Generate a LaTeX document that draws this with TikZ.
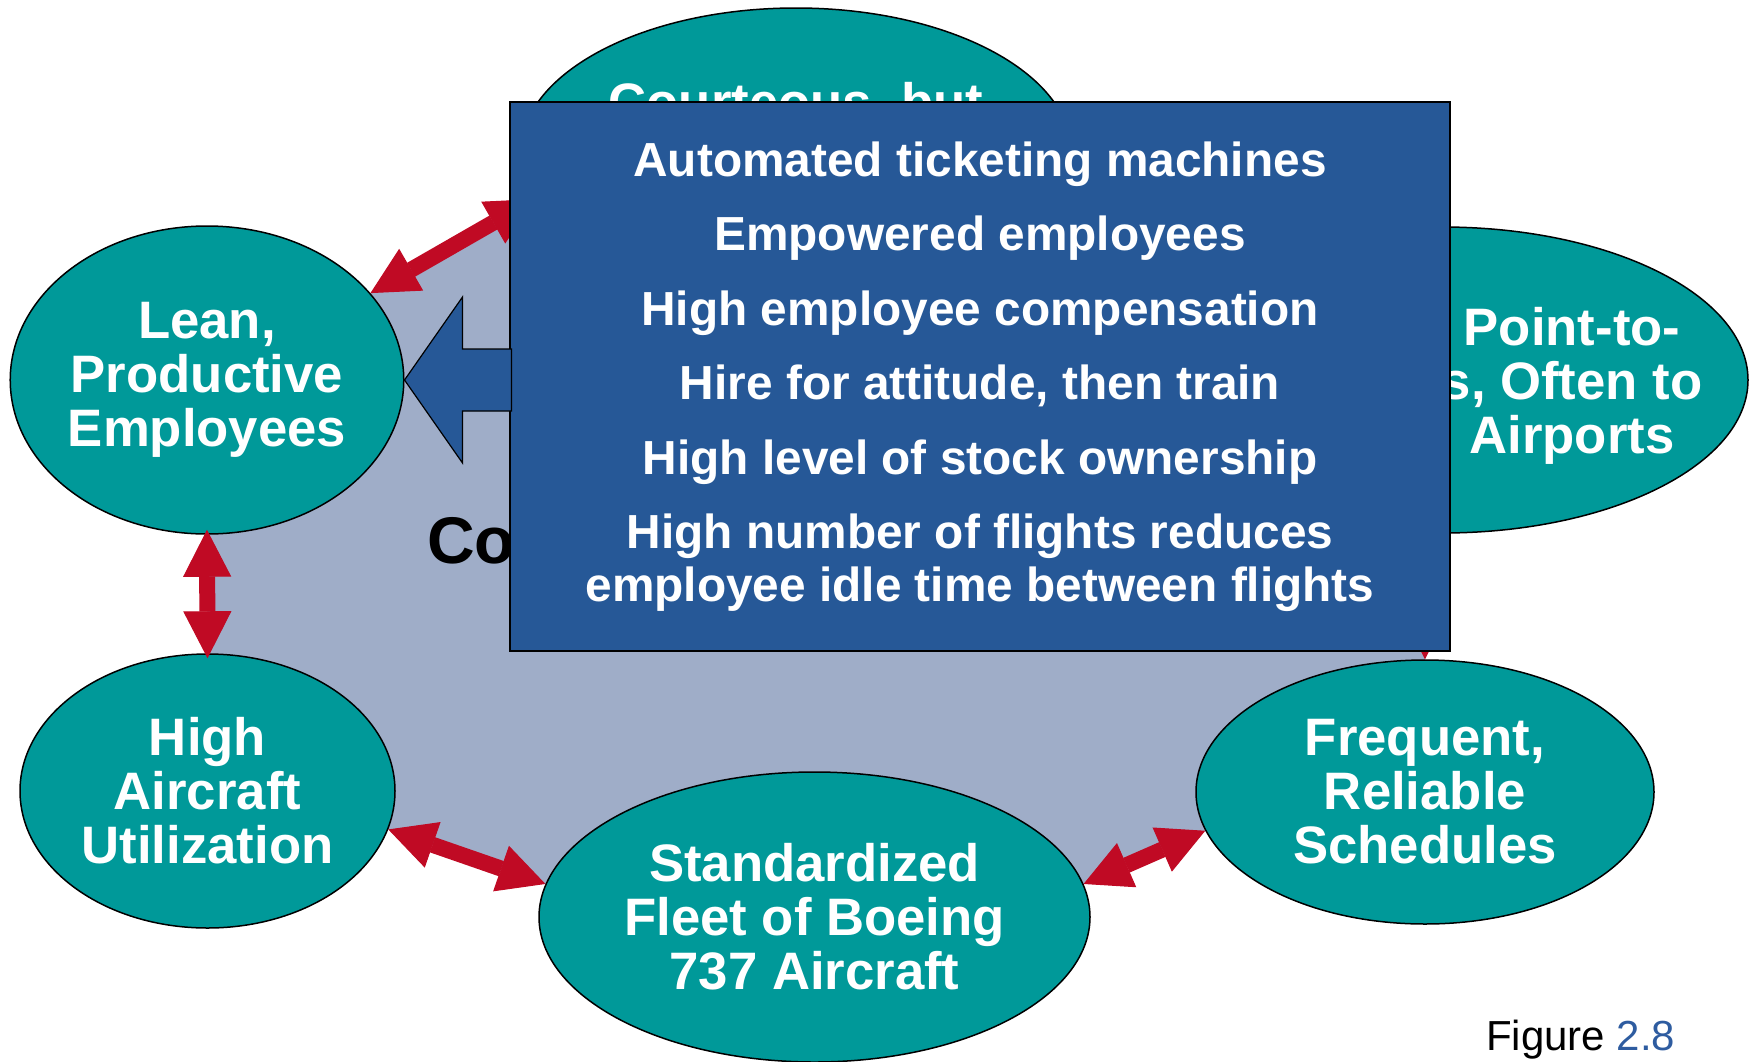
\documentclass[tikz,border=0pt]{standalone}
\usepackage{fontspec}
\setmainfont{Liberation Sans}
\usetikzlibrary{shapes.geometric,arrows.meta,backgrounds}
\definecolor{nodeteal}{RGB}{0,153,153}
\definecolor{linkred}{RGB}{192,10,36}
\definecolor{panelblue}{RGB}{38,88,151}
\definecolor{hubgray}{RGB}{159,173,200}
\definecolor{figblue}{RGB}{46,92,160}

\begin{document}
\begin{tikzpicture}[x=1pt, y=-1pt,
    activity/.style={ellipse, draw=black, line width=1.5pt, fill=nodeteal,
        inner sep=0pt, text=white, align=center,
        font=\fontsize{52.7}{54}\selectfont\bfseries},
    tealtext/.style={text=white, align=center, inner sep=0pt,
        font=\fontsize{52.7}{54}\selectfont\bfseries},
    link/.style={draw=linkred, line width=16pt,
        arrows={Triangle[width=48pt,length=47pt,line width=1pt]-Triangle[width=48pt,length=47pt,line width=1pt]}},
    panel/.style={rectangle, draw=black, line width=2pt, fill=panelblue,
        text=white, align=center, inner sep=0pt,
        font=\fontsize{47.8}{52.6}\selectfont\bfseries},
    blockarrow/.style={draw=black, line width=1.2pt, fill=panelblue},
    hub/.style={fill=hubgray}
]
    \useasboundingbox (0,0) rectangle (1754,1061);

    \node[activity, minimum width=551pt, minimum height=290pt] (court) at (796,153) {};
    \node[tealtext, anchor=base] (courttxt) at (796,120) {Courteous, but};
    \node[activity, minimum width=612pt, minimum height=306pt] (point) at (1442,380) {};
    \node[tealtext] (pointtxt) at (1572,385.5) {Point-to-\\s, Often to\\Airports};
    \node[activity, minimum width=392pt, minimum height=308pt] (lean) at (207,380) {Lean,\\Productive\\Employees};
    \node[activity, minimum width=375pt, minimum height=274pt] (high) at (207.5,791) {High\\Aircraft\\Utilization};
    \node[activity, minimum width=551pt, minimum height=290pt] (fleet) at (814.5,917) {Standardized\\Fleet of Boeing\\737 Aircraft};
    \node[activity, minimum width=458pt, minimum height=264pt] (freq) at (1425,792) {Frequent,\\Reliable\\Schedules};

    \begin{scope}[on background layer]
        \fill[hub] (lean.28) -- (court.190) -- (court.center) -- (point.center)
            -- (freq.north |- point.south) -- (freq.north) -- (freq.center) -- (freq.190)
            -- (fleet.7) -- (fleet.center) -- (fleet.173) -- (high.-12) -- (high.center)
            -- (high.north) -- (lean.south) -- (lean.center) -- cycle;
    \end{scope}

    \draw[link] (lean.28) -- (court.190);
    \draw[link, shorten <=-5pt, shorten >=-5pt] (lean.south) -- (high.north);
    \draw[link] (high.-12) -- (fleet.173);
    \draw[link] (fleet.7) -- (freq.190);
    \draw[link] (freq.north |- point.south) -- (freq.north);

    \node[anchor=base west, inner sep=0pt, font=\fontsize{66}{70}\selectfont\bfseries] (co) at (427,563) {Co};

    \node[panel, minimum width=940pt, minimum height=549pt] (box) at (980,376.5) {Automated ticketing machines\\[21.9pt]
        Empowered employees\\[21.9pt]
        High employee compensation\\[21.9pt]
        Hire for attitude, then train\\[21.9pt]
        High level of stock ownership\\[21.9pt]
        High number of flights reduces\\
        employee idle time between flights};

    \draw[blockarrow] (lean.east) -- ++(58,-83) -- ++(0,52) -- ++(49,0) -- ++(0,62)
        -- ++(-49,0) -- ++(0,52) -- cycle;

    \node[anchor=base west, inner sep=0pt, font=\fontsize{42}{46}\selectfont] (fig) at (1486,1050) {Figure \textcolor{figblue}{2.8}};
\end{tikzpicture}
\end{document}
